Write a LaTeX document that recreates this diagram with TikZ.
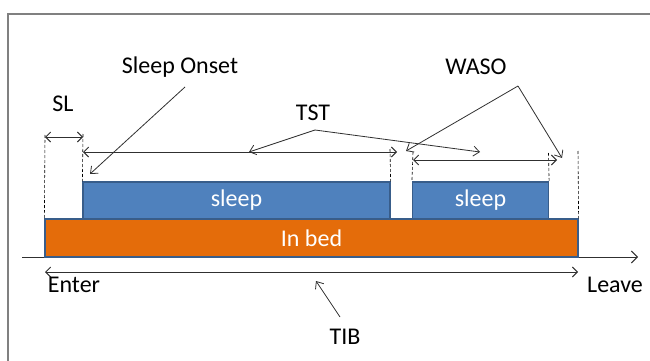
\documentclass[tikz,border=0pt]{standalone}
\usepackage{fontspec}
\setmainfont{Carlito}
\usetikzlibrary{arrows.meta}
\definecolor{sleepblue}{HTML}{4F81BD}
\definecolor{bedorange}{HTML}{E46C0A}
\definecolor{boxline}{HTML}{385D8A}
\definecolor{frameline}{HTML}{808080}
\definecolor{ptr}{HTML}{303030}
\tikzset{
  lbl/.style={font=\fontsize{24}{28}\selectfont, text=black, inner sep=0pt},
  blk/.style={draw=boxline, line width=1.2pt, text=white, inner sep=0pt,
              font=\fontsize{24}{28}\selectfont},
  sleepbox/.style={blk, fill=sleepblue, minimum height=37pt},
  bedbox/.style={blk, fill=bedorange, minimum height=38pt},
  guide/.style={draw=black, dashed, line width=0.6pt, dash pattern=on 3pt off 2pt},
  span/.style={draw=ptr, line width=0.9pt, {Straight Barb[length=5pt,width=10pt]}-{Straight Barb[length=5pt,width=10pt]}},
  pointer/.style={draw=ptr, line width=0.8pt, -{Straight Barb[length=6pt,width=10pt]}},
  axis/.style={draw=ptr, line width=0.9pt, -{Straight Barb[length=6pt,width=12pt]}},
  frame/.style={draw=frameline, line width=1.2pt}
}
\begin{document}
\begin{tikzpicture}[x=1pt,y=-1pt]
\useasboundingbox (0,0) rectangle (650,361);
% frame
\coordinate (fbl) at (8,361);
\coordinate (ftr) at (650,14);
\draw[frame] (fbl) |- (ftr);

% axis
\coordinate (axL) at (22,257);
\coordinate (axR) at (638,257);
\draw[axis] (axL) -- (axR);

% boxes
\node[sleepbox, minimum width=307pt] (s1) at (236.5,200.5) {sleep};
\node[sleepbox, minimum width=136pt] (s2) at (480.5,200.5) {sleep};
\node[bedbox, minimum width=533pt] (bed) at (311.5,238) {In bed};

% dashed guides
\coordinate (g1) at (45,135);
\coordinate (g2) at (83,134);
\coordinate (g3) at (390,149);
\coordinate (g4) at (413,152);
\coordinate (g5) at (548.5,153);
\coordinate (g6) at (578,151);
\draw[guide] (g1) -- (bed.north west);
\draw[guide] (g2) -- (s1.north west);
\draw[guide] (g3) -- (s1.north east);
\draw[guide] (g4) -- (s2.north west);
\draw[guide] (g5) -- (s2.north east);
\draw[guide] (g6) -- (bed.north east);

% spans
\coordinate (slA) at (45,137);
\coordinate (slB) at (83,137);
\draw[span] (slA) -- (slB);
\coordinate (tstA) at (83,152);
\coordinate (tstB) at (397,152);
\draw[span] (tstA) -- (tstB);
\coordinate (wA) at (413,160);
\coordinate (wB) at (557,160);
\draw[span] (wA) -- (wB);
\coordinate (tibA) at (45,272);
\coordinate (tibB) at (578,272);
\draw[span] (tibA) -- (tibB);

% labels
\node[lbl] (SL) at (63,104) {SL};
\node[lbl] (onset) at (180,67) {Sleep Onset};
\node[lbl] (TST) at (313,113) {TST};
\node[lbl] (WASO) at (476,67) {WASO};
\node[lbl] (enter) at (74,285) {Enter};
\node[lbl] (leave) at (615,285) {Leave};
\node[lbl] (TIB) at (345,337) {TIB};

% pointers
\coordinate (onsetP) at (185,87);
\coordinate (onsetT) at (90,174);
\draw[pointer] (onsetP) -- (onsetT);
\coordinate (tstP) at (315,130);
\coordinate (tstT1) at (249,152);
\coordinate (tstT2) at (480,152);
\draw[pointer] (tstP) -- (tstT1);
\draw[pointer] (tstP) -- (tstT2);
\coordinate (wasoP) at (518,86);
\coordinate (wasoT1) at (406,151);
\coordinate (wasoT2) at (562,158);
\draw[pointer] (wasoP) -- (wasoT1);
\draw[pointer] (wasoP) -- (wasoT2);
\coordinate (tibP) at (340,317);
\coordinate (tibT) at (316,281);
\draw[pointer] (tibP) -- (tibT);
\end{tikzpicture}
\end{document}
